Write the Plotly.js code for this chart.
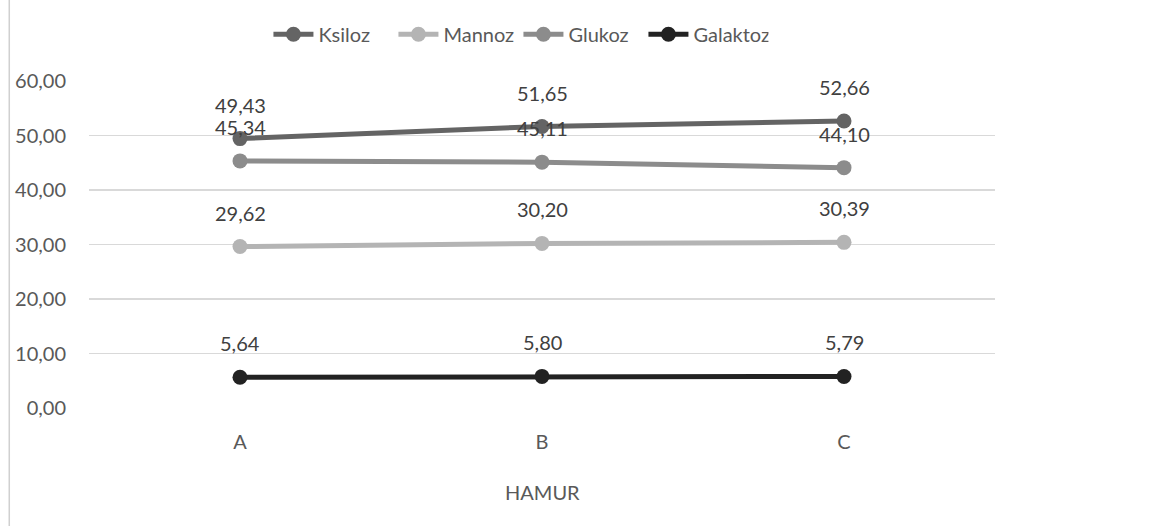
<!DOCTYPE html>
<html><head><meta charset="utf-8">
<script src="https://cdn.plot.ly/plotly-3.0.1.min.js"></script>
<style>html,body{margin:0;padding:0;background:#fff}#chart{width:1152px;height:526px}</style>
</head><body><div id="chart"></div>
<script>
const categories = ['A', 'B', 'C'];
const ksiloz = [49.43, 51.65, 52.66];
const mannoz = [29.62, 30.20, 30.39];
const glukoz = [45.34, 45.11, 44.10];
const galaktoz = [5.64, 5.80, 5.79];
const seriesNames = ['Ksiloz', 'Mannoz', 'Glukoz', 'Galaktoz'];
const yTicks = [0, 10, 20, 30, 40, 50, 60];

const seriesData = [ksiloz, mannoz, glukoz, galaktoz];
const colors = ['#646464', '#b4b4b4', '#8c8c8c', '#222222'];
const fontFam = 'Lato, "Open Sans", sans-serif';
const fmt = v => v.toFixed(2).replace('.', ',');

const traces = seriesData.map((vals, i) => ({
  x: categories, y: vals, name: seriesNames[i], type: 'scatter', mode: 'lines+markers',
  line: {color: colors[i], width: 5},
  marker: {color: colors[i], size: 15},
  hoverinfo: 'none'
}));

const annotations = [];
seriesData.forEach((vals, i) => {
  vals.forEach((v, j) => {
    annotations.push({x: categories[j], y: v, xref: 'x', yref: 'y', text: fmt(v),
      showarrow: false, yshift: 34, yanchor: 'middle',
      font: {family: fontFam, size: 20, color: '#404040'}});
  });
});
annotations.push({x: 0.5, y: -0.258, xref: 'paper', yref: 'paper', text: 'HAMUR', showarrow: false,
  yanchor: 'middle', font: {family: fontFam, size: 20, color: '#595959'}});

const layout = {
  width: 1152, height: 526,
  margin: {l: 89, r: 157, t: 81, b: 118},
  paper_bgcolor: '#ffffff', plot_bgcolor: '#ffffff',
  showlegend: true,
  legend: {orientation: 'h', x: 0.474, xanchor: 'center', y: 1.143, yanchor: 'middle',
    font: {family: fontFam, size: 20, color: '#595959'}, itemwidth: 40, entrywidth: 70,
    traceorder: 'normal'},
  xaxis: {type: 'category', range: [-0.5, 2.5], showgrid: false, zeroline: false, showline: false,
    ticks: '', tickfont: {family: fontFam, size: 20, color: '#595959'}, ticklabelstandoff: 20},
  yaxis: {range: [0, 60], tickvals: yTicks, ticktext: yTicks.map(fmt), showgrid: true,
    gridcolor: '#d9d9d9', gridwidth: 1.5, zeroline: false, showline: false, ticks: '',
    tickfont: {family: fontFam, size: 20, color: '#595959'}, ticklabelstandoff: 22},
  annotations: annotations,
  shapes: [{type: 'rect', xref: 'paper', yref: 'paper', x0: -0.088, x1: 1.2, y0: -0.38, y1: 1.27,
    line: {color: '#d0d0d0', width: 1.5}, fillcolor: 'rgba(0,0,0,0)', layer: 'below'}]
};

Plotly.newPlot('chart', traces, layout, {displayModeBar: false, staticPlot: true});
</script></body></html>
